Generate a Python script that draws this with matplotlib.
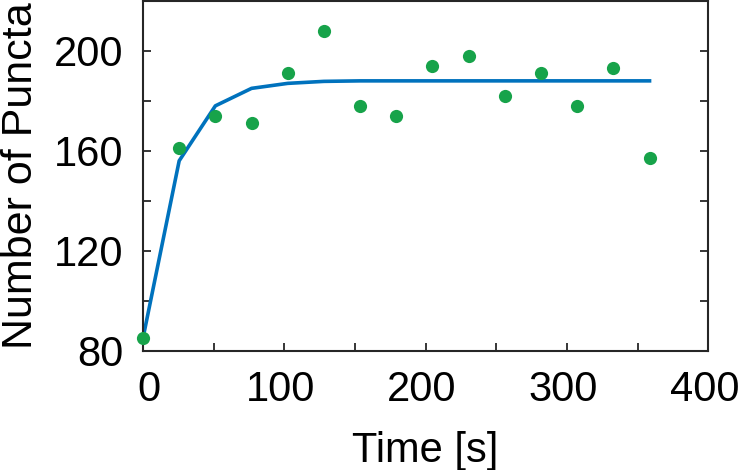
import numpy as np
import matplotlib.pyplot as plt
import matplotlib.transforms as mtrans

plt.rcParams['font.family'] = ['Liberation Sans', 'DejaVu Sans']

# measured puncta counts (every 25.6 s)
time_s = [0, 25.6, 51.2, 76.8, 102.4, 128.0, 153.6, 179.2,
          204.8, 230.4, 256.0, 281.6, 307.2, 332.8, 358.4]
puncta = [85, 161, 174, 171, 191, 208, 178, 174,
          194, 198, 182, 191, 178, 193, 157]

# fitted curve at the same time points
fit = [85, 156, 178, 185, 187, 187.8, 188, 188,
       188, 188, 188, 188, 188, 188, 188]

xticks = [0, 100, 200, 300, 400]
yticks = [80, 120, 160, 200]

fig = plt.figure(figsize=(7.39, 4.70), dpi=100)
ax = fig.add_axes([0.1935, 0.254, 0.765, 0.744])

ax.plot(time_s, fit, color='#0072BD', lw=2.6, zorder=2)
ax.plot(time_s, puncta, 'o', color='#17a34a', ms=9.5, mec='none', zorder=3, clip_on=False)

ax.set_xlim(0, 400)
ax.set_ylim(80, 220)
ax.set_xticks(np.arange(0, 401, 50), minor=True)
ax.set_yticks(np.arange(80, 221, 20), minor=True)
ax.set_xticks(xticks)
ax.set_yticks(yticks)
ax.tick_params(which='both', direction='in', length=6, width=1.3, color='#262626',
               top=False, right=True, labelsize=30)
ax.tick_params(axis='y', pad=14)
ax.tick_params(axis='x', pad=14)
for s in ax.spines.values():
    s.set_linewidth(1.5)
    s.set_color('#262626')

# nudge x tick labels like the original (0 a bit right, the rest a bit left)
for i, lab in enumerate(ax.get_xticklabels()):
    dx = 6 if i == 0 else -4
    lab.set_transform(lab.get_transform() + mtrans.ScaledTranslation(dx / 100, 0, fig.dpi_scale_trans))

ax.set_xlabel('Time [s]', fontsize=30, labelpad=15)
ax.set_ylabel('Number of Puncta', fontsize=31)
ax.yaxis.set_label_coords(-0.18, 0.5)

fig.savefig('out.png', dpi=100)
